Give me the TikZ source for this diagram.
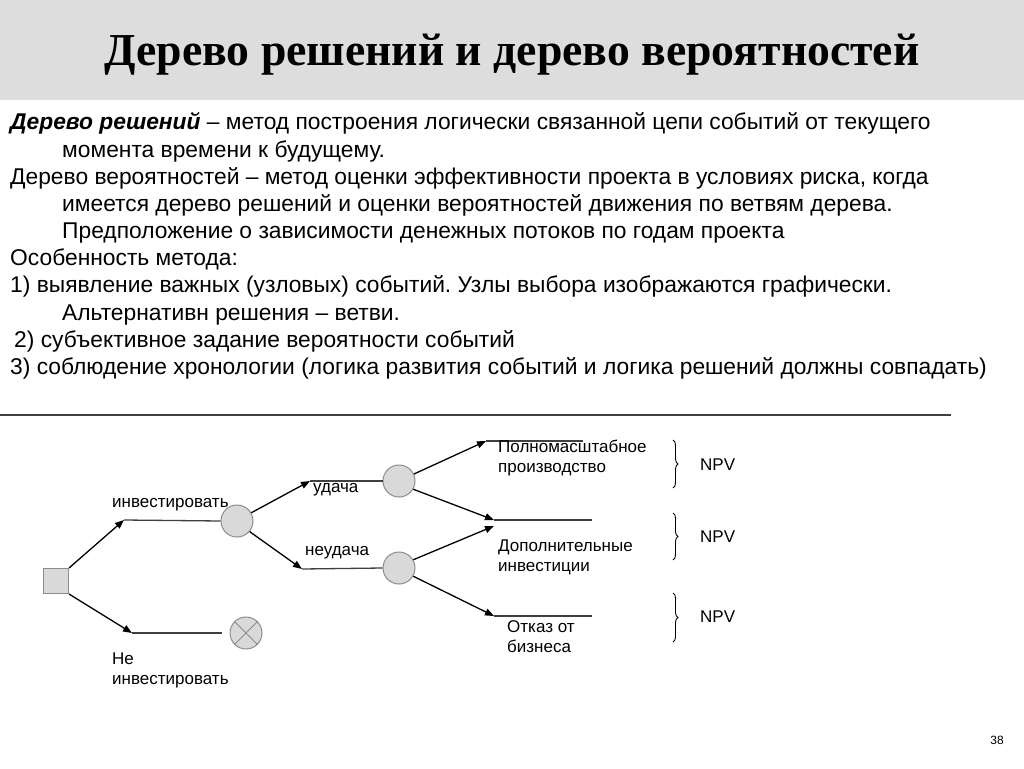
\documentclass[tikz,border=0pt]{standalone}
\usepackage{fontspec}
\setmainfont{Liberation Sans}
\newfontfamily\titlefont{Liberation Serif}
\usetikzlibrary{arrows.meta,decorations.pathreplacing}
\definecolor{band}{HTML}{DDDDDD}
\definecolor{nodefill}{HTML}{D9D9D9}
\definecolor{nodeline}{HTML}{8C8C8C}
\definecolor{branch}{HTML}{404040}
\frenchspacing
\begin{document}
\begin{tikzpicture}[x=1pt,y=-1pt,
  body/.style={anchor=base west,inner sep=0pt,font=\fontsize{22.8}{27}\selectfont},
  lbl/.style={anchor=west,inner sep=0pt,align=left,font=\fontsize{17}{20}\selectfont},
  chance/.style={circle,draw=nodeline,fill=nodefill,minimum size=32pt,inner sep=0pt,line width=1pt},
  decision/.style={rectangle,draw=nodeline,fill=nodefill,minimum size=25pt,inner sep=0pt,line width=1pt},
  arr/.style={-{Triangle[length=9pt,width=7pt]},line width=1.3pt,black},
  branchline/.style={line width=1.3pt,branch},
  bracestyle/.style={decorate,decoration={brace,amplitude=5pt},line width=0.9pt,black}
]
\useasboundingbox (0,0) rectangle (1024,768);
\fill[white] (0,0) rectangle (1024,768);
\fill[band] (0,0) rectangle (1024,100);
\node[inner sep=0pt,font=\titlefont\bfseries\fontsize{45.7}{50}\selectfont] (title) at (512,55) {Дерево решений и дерево вероятностей};

% body text
\node[body] (t1) at (10,129) {\textbf{\textit{Дерево решений}} – метод построения логически связанной цепи событий от текущего};
\node[body] (t2) at (62,157) {момента времени к будущему.};
\node[body] (t3) at (10,184) {Дерево вероятностей – метод оценки эффективности проекта в условиях риска, когда};
\node[body] (t4) at (62,211) {имеется дерево решений и оценки вероятностей движения по ветвям дерева.};
\node[body] (t5) at (62,238) {Предположение о зависимости денежных потоков по годам проекта};
\node[body] (t6) at (10,265) {Особенность метода:};
\node[body] (t7) at (10,292) {1) выявление важных (узловых) событий. Узлы выбора изображаются графически.};
\node[body] (t8) at (62,320) {Альтернативн решения – ветви.};
\node[body] (t9) at (14,347) {2) субъективное задание вероятности событий};
\node[body] (t10) at (10,374) {3) соблюдение хронологии (логика развития событий и логика решений должны совпадать)};

\coordinate (rl) at (0,415);
\coordinate (rr) at (951,415);
\draw[line width=1.3pt,branch] (rl) -- (rr);

% tree nodes
\node[decision] (sq) at (56,581) {};
\node[chance] (c1) at (237,521) {};
\node[chance] (c2) at (399,481) {};
\node[chance] (c3) at (399,568) {};
\node[chance] (cx) at (246,633) {};
\draw[nodeline,line width=1pt] (cx.north east) -- (cx.south west) (cx.north west) -- (cx.south east);

% free ends
\coordinate (a1) at (124,520);
\coordinate (a2) at (132,633);
\coordinate (a2e) at (222,633);
\coordinate (b1) at (310,481);
\coordinate (b2) at (302,569);
\coordinate (d1) at (486,441);
\coordinate (d1e) at (583,441);
\coordinate (d2) at (494,520);
\coordinate (d2e) at (592,520);
\coordinate (d3) at (494,526);
\coordinate (d4) at (494,616);
\coordinate (d4e) at (592,616);

\draw[arr] (sq.north east) -- (a1);
\draw[branchline] (a1) -- (c1.west);
\draw[arr] (sq.south east) -- (a2);
\draw[branchline] (a2) -- (a2e);

\draw[arr] (c1.30) -- (b1);
\draw[branchline] (b1) -- (c2.west);
\draw[arr] (c1.-40) -- (b2);
\draw[branchline] (b2) -- (c3.west);

\draw[arr] (c2.25) -- (d1);
\draw[branchline] (d1) -- (d1e);
\draw[arr] (c2.-30) -- (d2);
\draw[branchline] (d2) -- (d2e);
\draw[arr] (c3.30) -- (d3);
\draw[arr] (c3.-30) -- (d4);
\draw[branchline] (d4) -- (d4e);

% labels
\node[lbl] (l1) at (112,505) {инвестировать};
\node[lbl] (l2) at (112,670) {Не\\инвестировать};
\node[lbl] (l3) at (313,490) {удача};
\node[lbl] (l4) at (305,553) {неудача};
\node[lbl] (l5) at (498,458) {Полномасштабное\\производство};
\node[lbl] (l6) at (498,557) {Дополнительные\\инвестиции};
\node[lbl] (l7) at (507,637) {Отказ от\\бизнеса};

% braces and NPV
\draw[bracestyle] (673,440) -- (673,488);
\draw[bracestyle] (673,513) -- (673,560);
\draw[bracestyle] (673,593) -- (673,642);
\node[lbl] (n1) at (700,465) {NPV};
\node[lbl] (n2) at (700,537) {NPV};
\node[lbl] (n3) at (700,617) {NPV};

\node[inner sep=0pt,font=\fontsize{12}{14}\selectfont] (pg) at (997,740) {38};
\end{tikzpicture}
\end{document}
